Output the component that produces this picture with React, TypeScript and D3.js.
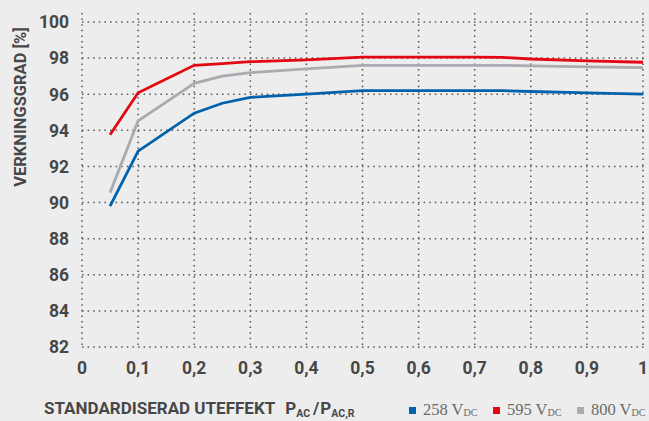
import React from "react";
import * as d3 from "d3";

const xValues = [0.05, 0.1, 0.2, 0.25, 0.3, 0.4, 0.5, 0.6, 0.7, 0.75, 0.8, 0.9, 1];
const v258 = [89.8, 92.85, 94.95, 95.5, 95.83, 96.0, 96.2, 96.2, 96.2, 96.2, 96.15, 96.08, 96.0];
const v595 = [93.75, 96.08, 97.6, 97.7, 97.8, 97.9, 98.05, 98.05, 98.05, 98.04, 97.95, 97.85, 97.77];
const v800 = [90.55, 94.52, 96.6, 97.0, 97.2, 97.4, 97.6, 97.6, 97.6, 97.6, 97.57, 97.52, 97.47];
const xTicks = [0, 0.1, 0.2, 0.3, 0.4, 0.5, 0.6, 0.7, 0.8, 0.9, 1];
const yTicks = [82, 84, 86, 88, 90, 92, 94, 96, 98, 100];

const series = [
  { name: "258", values: v258, color: "#0062ad" },
  { name: "595", values: v595, color: "#e30613" },
  { name: "800", values: v800, color: "#a7acb1" },
];

const W = 649;
const H = 421;
const margin = { left: 82, right: 6, top: 22, bottom: 74 };

export default function App() {
  const x = d3.scaleLinear().domain([0, 1]).range([margin.left, W - margin.right]);
  const y = d3.scaleLinear().domain([82, 100]).range([H - margin.bottom, margin.top]);
  const line = d3
    .line<number>()
    .x((_, i) => x(xValues[i]))
    .y((d) => y(d));
  const fmt = (d: number) => (d === 0 || d === 1 ? String(d) : String(d).replace(".", ","));
  const bold = "Roboto, 'Open Sans', sans-serif";
  const ink = "#474747";

  return (
    <svg
      width={W}
      height={H}
      style={{ position: "absolute", left: 0, top: 0, background: "#ededed" }}
    >
      <rect width={W} height={H} fill="#ededed" />
      <g stroke="#555" strokeWidth={1.5} strokeDasharray="1.5,4.1" fill="none">
        {yTicks.map((t) => (
          <line key={"h" + t} x1={x(0)} x2={x(1) + 2} y1={y(t)} y2={y(t)} />
        ))}
        {xTicks.map((t) => (
          <line key={"v" + t} x1={x(t)} x2={x(t)} y1={13} y2={y(82)} />
        ))}
      </g>
      {series.map((s) => (
        <path
          key={s.name}
          d={line(s.values) || ""}
          fill="none"
          stroke={s.color}
          strokeWidth={2.8}
        />
      ))}
      <g fontFamily={bold} fontWeight="bold" fontSize={17.5} fill={ink}>
        {yTicks.map((t) => (
          <text key={t} x={69} y={y(t)} dy="0.36em" textAnchor="end">
            {t}
          </text>
        ))}
        {xTicks.map((t) => (
          <text key={t} x={x(t)} y={368} dy="0.36em" textAnchor="middle">
            {fmt(t)}
          </text>
        ))}
      </g>
      <text
        transform={`translate(20,107) rotate(-90)`}
        textAnchor="middle"
        fontFamily={bold}
        fontWeight="bold"
        fontSize={16.5}
        fill={ink}
        dy="0.35em"
      >
        VERKNINGSGRAD [%]
      </text>
      <text x={44} y={414} fontFamily={bold} fontWeight="bold" fontSize={17} fill={ink}>
        STANDARDISERAD UTEFFEKT
        <tspan dx={10}>P</tspan>
        <tspan fontSize={10.5} dy={2.5}>AC</tspan>
        <tspan dy={-2.5} dx={3}>/</tspan>
        <tspan dx={1}>P</tspan>
        <tspan fontSize={10.5} dy={2.5}>AC,R</tspan>
      </text>
      {series.map((s, i) => {
        const lx = 409 + i * 84;
        return (
          <g key={s.name}>
            <rect x={lx} y={407} width={7} height={7} fill={s.color} />
            <text
              x={lx + 14}
              y={415}
              fontFamily="'Liberation Serif', serif"
              fontSize={16.5}
              fill="#6a6a6a"
            >
              {s.name} V<tspan fontSize={10} dy={1}>DC</tspan>
            </text>
          </g>
        );
      })}
    </svg>
  );
}
